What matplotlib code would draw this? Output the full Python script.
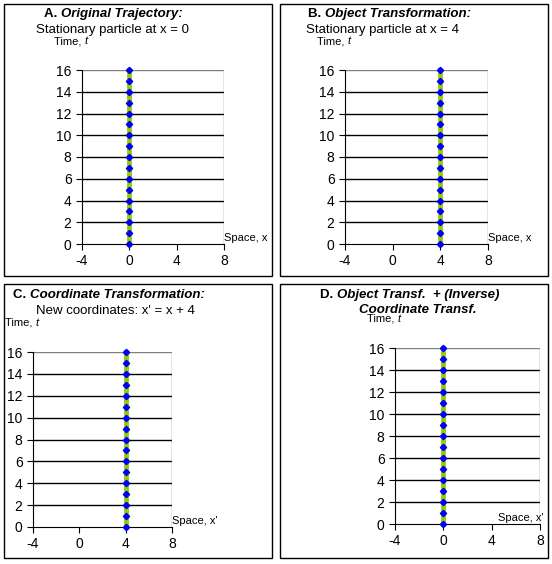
import matplotlib
matplotlib.use("Agg")
import matplotlib.pyplot as plt
from matplotlib.patches import Rectangle

times = list(range(0, 17))
pos_A = [0]*17
pos_B = [4]*17
pos_C = [4]*17
pos_D = [0]*17
xticks = [-4, 0, 4, 8]
yticks = [0, 2, 4, 6, 8, 10, 12, 14, 16]

W, H = 552, 564
fig = plt.figure(figsize=(W/100, H/100), dpi=100)
plt.rcParams['font.family'] = 'Liberation Sans'
plt.rcParams['axes.unicode_minus'] = False

def box(x0, y0, x1, y1):
    fig.patches.append(Rectangle((x0/W, 1-y1/H), (x1-x0)/W, (y1-y0)/H, fill=False,
                                 ec='black', lw=1, transform=fig.transFigure))

def panel(rect, xs, bold, ital, titlepos, xlabel, xl_right=False):
    l, r, t, b = rect
    ax = fig.add_axes([l/W, 1-b/H, (r-l)/W, (b-t)/H])
    ax.set_xlim(-4, 8); ax.set_ylim(0, 16)
    for y in yticks[1:-1]:
        ax.axhline(y, color='black', lw=1)
    ax.axvline(8, color='gray', lw=1)
    ax.axhline(16, color='gray', lw=1)
    for s in ['top', 'right']:
        ax.spines[s].set_visible(False)
    ax.plot(xs, times, color='#99CC00', lw=3.5, zorder=3, clip_on=False)
    ax.plot(xs, times, ls='none', marker='D', ms=3.2, color='#0000FF', zorder=4, clip_on=False)
    ax.set_xticks(xticks); ax.set_yticks(yticks)
    ax.tick_params(labelsize=10, length=4, direction='out')
    ax.text(-3.8, 18.2, 'Time, ', fontsize=8, ha='right', va='bottom')
    ax.text(-3.8, 18.2, 't', fontsize=8, style='italic', ha='left', va='bottom')
    if xl_right:
        ax.text(8.3, 0.1, xlabel, fontsize=8, ha='right', va='bottom')
    else:
        ax.text(8.0, 0.1, xlabel, fontsize=8, ha='left', va='bottom')
    tx, ty = titlepos
    fig.text(tx/W, 1-ty/H, bold + ' ', fontsize=9.5, fontweight='bold', ha='right', va='center')
    fig.text(tx/W, 1-ty/H, ital, fontsize=9.5, fontweight='bold', style='italic', ha='left', va='center')
    return ax

box(4, 4, 272, 276); box(280, 4, 548, 276); box(4, 284, 272, 558); box(280, 284, 548, 558)

panel((82, 224, 70, 244), pos_A, 'A.', 'Original Trajectory:', (61, 14), 'Space, x')
fig.text(36/W, 1-30/H, 'Stationary particle at x = 0', fontsize=9.5, va='center')
panel((345, 488, 70, 244), pos_B, 'B.', 'Object Transformation:', (325, 14), 'Space, x')
fig.text(306/W, 1-30/H, 'Stationary particle at x = 4', fontsize=9.5, va='center')
panel((33, 172, 352, 527), pos_C, 'C.', 'Coordinate Transformation:', (30, 295), "Space, x'")
fig.text(36/W, 1-311/H, "New coordinates: x' = x + 4", fontsize=9.5, va='center')
panel((395, 540, 348, 524), pos_D, 'D.', "Object Transf.  + (Inverse)", (337, 295), "Space, x'", xl_right=True)
fig.text(418/W, 1-310/H, 'Coordinate Transf.', fontsize=9.5, fontweight='bold', style='italic', ha='center', va='center')

fig.savefig('out.png', dpi=100)
